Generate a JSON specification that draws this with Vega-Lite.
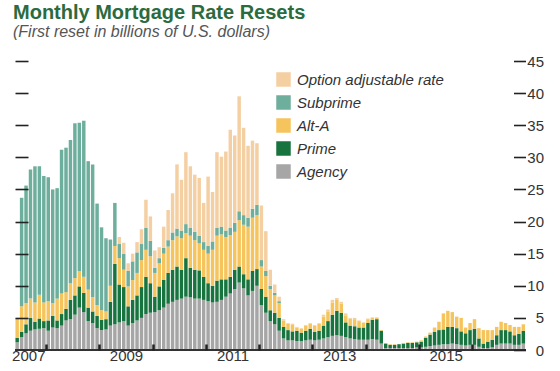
{
  "$schema": "https://vega.github.io/schema/vega-lite/v6.json",
  "autosize": {"type": "none"},
  "width": 510.5,
  "height": 289,
  "padding": {"left": 15, "top": 61, "right": 34.5, "bottom": 21},
  "background": "white",
  "config": {"view": {"stroke": null}},
  "title": {
    "text": "Monthly Mortgage Rate Resets",
    "subtitle": "(First reset in billions of U.S. dollars)",
    "anchor": "start",
    "frame": "group",
    "font": "Liberation Sans",
    "fontSize": 20,
    "fontWeight": "bold",
    "color": "#2c6b3d",
    "subtitleFont": "Liberation Sans",
    "subtitleFontSize": 16,
    "subtitleFontStyle": "italic",
    "subtitleColor": "#555555",
    "subtitlePadding": 1,
    "offset": 14,
    "dx": -2
  },
  "data": {"values": [
    {"m":"2007-06","Agency":1.2,"Prime":0.7,"Alt-A":3.1,"Subprime":0,"Option adjustable rate":0},
    {"m":"2007-07","Agency":2.0,"Prime":0.8,"Alt-A":4.0,"Subprime":16.9,"Option adjustable rate":0},
    {"m":"2007-08","Agency":2.6,"Prime":1.4,"Alt-A":3.3,"Subprime":18.3,"Option adjustable rate":0},
    {"m":"2007-09","Agency":3.0,"Prime":2.0,"Alt-A":3.0,"Subprime":20.1,"Option adjustable rate":0},
    {"m":"2007-10","Agency":3.2,"Prime":1.2,"Alt-A":3.0,"Subprime":21.2,"Option adjustable rate":0},
    {"m":"2007-11","Agency":3.3,"Prime":1.6,"Alt-A":3.7,"Subprime":20.0,"Option adjustable rate":0},
    {"m":"2007-12","Agency":3.4,"Prime":1.1,"Alt-A":2.9,"Subprime":19.7,"Option adjustable rate":0},
    {"m":"2008-01","Agency":3.0,"Prime":1.6,"Alt-A":3.0,"Subprime":19.3,"Option adjustable rate":0},
    {"m":"2008-02","Agency":3.5,"Prime":1.8,"Alt-A":2.0,"Subprime":17.7,"Option adjustable rate":0},
    {"m":"2008-03","Agency":3.4,"Prime":1.2,"Alt-A":3.4,"Subprime":17.2,"Option adjustable rate":0},
    {"m":"2008-04","Agency":3.8,"Prime":1.8,"Alt-A":3.2,"Subprime":22.4,"Option adjustable rate":0},
    {"m":"2008-05","Agency":4.6,"Prime":1.8,"Alt-A":2.6,"Subprime":22.5,"Option adjustable rate":0},
    {"m":"2008-06","Agency":4.8,"Prime":3.0,"Alt-A":2.6,"Subprime":22.3,"Option adjustable rate":0},
    {"m":"2008-07","Agency":5.5,"Prime":3.0,"Alt-A":2.7,"Subprime":24.1,"Option adjustable rate":0},
    {"m":"2008-08","Agency":6.6,"Prime":3.3,"Alt-A":2.4,"Subprime":23.1,"Option adjustable rate":0},
    {"m":"2008-09","Agency":5.9,"Prime":3.0,"Alt-A":2.5,"Subprime":24.3,"Option adjustable rate":0},
    {"m":"2008-10","Agency":4.5,"Prime":2.1,"Alt-A":2.8,"Subprime":20.0,"Option adjustable rate":0},
    {"m":"2008-11","Agency":4.2,"Prime":1.8,"Alt-A":2.2,"Subprime":20.7,"Option adjustable rate":0},
    {"m":"2008-12","Agency":3.4,"Prime":1.9,"Alt-A":1.7,"Subprime":15.8,"Option adjustable rate":0},
    {"m":"2009-01","Agency":3.1,"Prime":1.6,"Alt-A":1.5,"Subprime":12.9,"Option adjustable rate":0},
    {"m":"2009-02","Agency":3.2,"Prime":1.6,"Alt-A":1.2,"Subprime":11.4,"Option adjustable rate":0},
    {"m":"2009-03","Agency":3.8,"Prime":3.7,"Alt-A":2.5,"Subprime":7.2,"Option adjustable rate":0},
    {"m":"2009-04","Agency":4.0,"Prime":9.4,"Alt-A":2.8,"Subprime":6.7,"Option adjustable rate":0},
    {"m":"2009-05","Agency":4.3,"Prime":5.9,"Alt-A":4.1,"Subprime":2.2,"Option adjustable rate":1.1},
    {"m":"2009-06","Agency":4.5,"Prime":5.3,"Alt-A":2.7,"Subprime":2.5,"Option adjustable rate":1.7},
    {"m":"2009-07","Agency":3.8,"Prime":3.0,"Alt-A":3.1,"Subprime":2.4,"Option adjustable rate":1.2},
    {"m":"2009-08","Agency":4.2,"Prime":3.6,"Alt-A":3.1,"Subprime":2.9,"Option adjustable rate":1.2},
    {"m":"2009-09","Agency":4.6,"Prime":3.9,"Alt-A":3.5,"Subprime":3.2,"Option adjustable rate":1.6},
    {"m":"2009-10","Agency":5.0,"Prime":4.8,"Alt-A":4.2,"Subprime":2.5,"Option adjustable rate":2.3},
    {"m":"2009-11","Agency":5.6,"Prime":5.8,"Alt-A":4.2,"Subprime":3.4,"Option adjustable rate":4.4},
    {"m":"2009-12","Agency":5.8,"Prime":4.6,"Alt-A":4.2,"Subprime":2.4,"Option adjustable rate":3.8},
    {"m":"2010-01","Agency":5.9,"Prime":2.4,"Alt-A":3.7,"Subprime":0.8,"Option adjustable rate":2.7},
    {"m":"2010-02","Agency":6.2,"Prime":3.7,"Alt-A":3.6,"Subprime":0.8,"Option adjustable rate":1.7},
    {"m":"2010-03","Agency":6.6,"Prime":4.3,"Alt-A":4.1,"Subprime":0.9,"Option adjustable rate":3.3},
    {"m":"2010-04","Agency":7.2,"Prime":4.8,"Alt-A":4.1,"Subprime":1.0,"Option adjustable rate":4.7},
    {"m":"2010-05","Agency":7.5,"Prime":5.0,"Alt-A":4.6,"Subprime":1.2,"Option adjustable rate":6.1},
    {"m":"2010-06","Agency":7.8,"Prime":5.2,"Alt-A":4.7,"Subprime":1.2,"Option adjustable rate":10.0},
    {"m":"2010-07","Agency":8.0,"Prime":4.5,"Alt-A":4.9,"Subprime":1.2,"Option adjustable rate":7.9},
    {"m":"2010-08","Agency":8.3,"Prime":6.0,"Alt-A":3.9,"Subprime":1.4,"Option adjustable rate":11.2},
    {"m":"2010-09","Agency":8.2,"Prime":4.6,"Alt-A":5.0,"Subprime":1.2,"Option adjustable rate":9.6},
    {"m":"2010-10","Agency":8.0,"Prime":4.5,"Alt-A":4.6,"Subprime":1.3,"Option adjustable rate":8.9},
    {"m":"2010-11","Agency":8.0,"Prime":4.4,"Alt-A":4.2,"Subprime":1.2,"Option adjustable rate":9.0},
    {"m":"2010-12","Agency":7.8,"Prime":3.6,"Alt-A":4.2,"Subprime":1.2,"Option adjustable rate":6.1},
    {"m":"2011-01","Agency":7.6,"Prime":2.8,"Alt-A":4.6,"Subprime":1.2,"Option adjustable rate":10.8},
    {"m":"2011-02","Agency":7.4,"Prime":2.6,"Alt-A":5.6,"Subprime":1.3,"Option adjustable rate":7.7},
    {"m":"2011-03","Agency":7.5,"Prime":3.3,"Alt-A":7.0,"Subprime":1.2,"Option adjustable rate":11.8},
    {"m":"2011-04","Agency":7.8,"Prime":3.2,"Alt-A":7.0,"Subprime":1.2,"Option adjustable rate":10.9},
    {"m":"2011-05","Agency":8.3,"Prime":2.7,"Alt-A":6.6,"Subprime":1.0,"Option adjustable rate":12.3},
    {"m":"2011-06","Agency":8.8,"Prime":2.6,"Alt-A":6.5,"Subprime":1.1,"Option adjustable rate":15.3},
    {"m":"2011-07","Agency":9.5,"Prime":3.0,"Alt-A":5.9,"Subprime":1.4,"Option adjustable rate":13.6},
    {"m":"2011-08","Agency":10.5,"Prime":2.5,"Alt-A":7.2,"Subprime":1.4,"Option adjustable rate":17.9},
    {"m":"2011-09","Agency":9.6,"Prime":2.2,"Alt-A":7.7,"Subprime":1.5,"Option adjustable rate":13.6},
    {"m":"2011-10","Agency":8.5,"Prime":2.5,"Alt-A":8.2,"Subprime":1.4,"Option adjustable rate":11.2},
    {"m":"2011-11","Agency":9.2,"Prime":3.1,"Alt-A":8.3,"Subprime":1.4,"Option adjustable rate":10.6},
    {"m":"2011-12","Agency":10.0,"Prime":2.6,"Alt-A":8.4,"Subprime":1.6,"Option adjustable rate":9.6},
    {"m":"2012-01","Agency":7.0,"Prime":2.5,"Alt-A":3.5,"Subprime":1.0,"Option adjustable rate":8.5},
    {"m":"2012-02","Agency":5.8,"Prime":2.5,"Alt-A":3.2,"Subprime":0.8,"Option adjustable rate":6.2},
    {"m":"2012-03","Agency":4.5,"Prime":1.7,"Alt-A":3.3,"Subprime":0.5,"Option adjustable rate":2.5},
    {"m":"2012-04","Agency":4.0,"Prime":1.8,"Alt-A":2.7,"Subprime":0.4,"Option adjustable rate":1.3},
    {"m":"2012-05","Agency":3.0,"Prime":2.0,"Alt-A":2.3,"Subprime":0.3,"Option adjustable rate":0.7},
    {"m":"2012-06","Agency":1.8,"Prime":1.8,"Alt-A":1.0,"Subprime":0,"Option adjustable rate":0.2},
    {"m":"2012-07","Agency":1.5,"Prime":1.6,"Alt-A":1.0,"Subprime":0,"Option adjustable rate":0.1},
    {"m":"2012-08","Agency":1.5,"Prime":1.4,"Alt-A":1.1,"Subprime":0,"Option adjustable rate":0.1},
    {"m":"2012-09","Agency":1.4,"Prime":1.6,"Alt-A":0.5,"Subprime":0,"Option adjustable rate":0.1},
    {"m":"2012-10","Agency":1.4,"Prime":1.3,"Alt-A":0.6,"Subprime":0,"Option adjustable rate":0.1},
    {"m":"2012-11","Agency":1.5,"Prime":1.5,"Alt-A":0.8,"Subprime":0,"Option adjustable rate":0.1},
    {"m":"2012-12","Agency":1.6,"Prime":1.7,"Alt-A":0.8,"Subprime":0,"Option adjustable rate":0.1},
    {"m":"2013-01","Agency":1.5,"Prime":1.3,"Alt-A":1.0,"Subprime":0,"Option adjustable rate":0.1},
    {"m":"2013-02","Agency":1.6,"Prime":1.4,"Alt-A":1.1,"Subprime":0,"Option adjustable rate":0.1},
    {"m":"2013-03","Agency":1.8,"Prime":2.0,"Alt-A":1.4,"Subprime":0,"Option adjustable rate":0.3},
    {"m":"2013-04","Agency":2.0,"Prime":2.5,"Alt-A":1.5,"Subprime":0,"Option adjustable rate":0.3},
    {"m":"2013-05","Agency":2.2,"Prime":3.3,"Alt-A":1.9,"Subprime":0,"Option adjustable rate":0.4},
    {"m":"2013-06","Agency":2.3,"Prime":3.8,"Alt-A":1.8,"Subprime":0,"Option adjustable rate":0.2},
    {"m":"2013-07","Agency":2.2,"Prime":3.6,"Alt-A":1.4,"Subprime":0,"Option adjustable rate":0.3},
    {"m":"2013-08","Agency":2.0,"Prime":2.3,"Alt-A":1.1,"Subprime":0,"Option adjustable rate":0.3},
    {"m":"2013-09","Agency":1.8,"Prime":2.0,"Alt-A":1.1,"Subprime":0,"Option adjustable rate":0.1},
    {"m":"2013-10","Agency":1.7,"Prime":2.0,"Alt-A":1.1,"Subprime":0,"Option adjustable rate":0.2},
    {"m":"2013-11","Agency":1.6,"Prime":1.9,"Alt-A":1.0,"Subprime":0,"Option adjustable rate":0.1},
    {"m":"2013-12","Agency":1.6,"Prime":1.9,"Alt-A":0.7,"Subprime":0,"Option adjustable rate":0.1},
    {"m":"2014-01","Agency":1.6,"Prime":2.6,"Alt-A":0.6,"Subprime":0,"Option adjustable rate":0.1},
    {"m":"2014-02","Agency":1.7,"Prime":3.0,"Alt-A":0.3,"Subprime":0,"Option adjustable rate":0.1},
    {"m":"2014-03","Agency":1.6,"Prime":3.2,"Alt-A":0.2,"Subprime":0,"Option adjustable rate":0.1},
    {"m":"2014-04","Agency":1.0,"Prime":2.0,"Alt-A":0.1,"Subprime":0,"Option adjustable rate":0},
    {"m":"2014-05","Agency":0.3,"Prime":0.7,"Alt-A":0,"Subprime":0,"Option adjustable rate":0},
    {"m":"2014-06","Agency":0.3,"Prime":0.5,"Alt-A":0.1,"Subprime":0,"Option adjustable rate":0},
    {"m":"2014-07","Agency":0.3,"Prime":0.5,"Alt-A":0.1,"Subprime":0,"Option adjustable rate":0},
    {"m":"2014-08","Agency":0.3,"Prime":0.6,"Alt-A":0,"Subprime":0,"Option adjustable rate":0},
    {"m":"2014-09","Agency":0.3,"Prime":0.7,"Alt-A":0.1,"Subprime":0,"Option adjustable rate":0},
    {"m":"2014-10","Agency":0.3,"Prime":0.8,"Alt-A":0.1,"Subprime":0,"Option adjustable rate":0},
    {"m":"2014-11","Agency":0.3,"Prime":0.8,"Alt-A":0.1,"Subprime":0,"Option adjustable rate":0},
    {"m":"2014-12","Agency":0.4,"Prime":0.8,"Alt-A":0.1,"Subprime":0,"Option adjustable rate":0},
    {"m":"2015-01","Agency":0.4,"Prime":0.9,"Alt-A":0.2,"Subprime":0,"Option adjustable rate":0},
    {"m":"2015-02","Agency":0.5,"Prime":1.4,"Alt-A":0.2,"Subprime":0,"Option adjustable rate":0},
    {"m":"2015-03","Agency":0.6,"Prime":1.8,"Alt-A":0.3,"Subprime":0,"Option adjustable rate":0},
    {"m":"2015-04","Agency":0.7,"Prime":2.1,"Alt-A":0.7,"Subprime":0,"Option adjustable rate":0},
    {"m":"2015-05","Agency":0.8,"Prime":2.3,"Alt-A":1.3,"Subprime":0,"Option adjustable rate":0},
    {"m":"2015-06","Agency":0.9,"Prime":2.3,"Alt-A":2.5,"Subprime":0,"Option adjustable rate":0},
    {"m":"2015-07","Agency":0.9,"Prime":2.7,"Alt-A":2.5,"Subprime":0,"Option adjustable rate":0},
    {"m":"2015-08","Agency":1.0,"Prime":2.6,"Alt-A":2.3,"Subprime":0,"Option adjustable rate":0},
    {"m":"2015-09","Agency":0.9,"Prime":2.5,"Alt-A":1.8,"Subprime":0,"Option adjustable rate":0},
    {"m":"2015-10","Agency":0.8,"Prime":2.1,"Alt-A":2.1,"Subprime":0,"Option adjustable rate":0},
    {"m":"2015-11","Agency":0.7,"Prime":1.9,"Alt-A":0.9,"Subprime":0,"Option adjustable rate":0},
    {"m":"2015-12","Agency":0.8,"Prime":2.3,"Alt-A":1.1,"Subprime":0,"Option adjustable rate":0},
    {"m":"2016-01","Agency":0.8,"Prime":2.5,"Alt-A":1.5,"Subprime":0,"Option adjustable rate":0},
    {"m":"2016-02","Agency":0.5,"Prime":1.3,"Alt-A":1.6,"Subprime":0,"Option adjustable rate":0},
    {"m":"2016-03","Agency":0.3,"Prime":0.7,"Alt-A":2.1,"Subprime":0,"Option adjustable rate":0},
    {"m":"2016-04","Agency":0.3,"Prime":1.0,"Alt-A":1.8,"Subprime":0,"Option adjustable rate":0},
    {"m":"2016-05","Agency":0.4,"Prime":1.2,"Alt-A":1.5,"Subprime":0,"Option adjustable rate":0},
    {"m":"2016-06","Agency":0.8,"Prime":1.5,"Alt-A":1.3,"Subprime":0,"Option adjustable rate":0},
    {"m":"2016-07","Agency":1.0,"Prime":2.1,"Alt-A":1.3,"Subprime":0,"Option adjustable rate":0},
    {"m":"2016-08","Agency":1.0,"Prime":2.1,"Alt-A":1.1,"Subprime":0,"Option adjustable rate":0},
    {"m":"2016-09","Agency":1.0,"Prime":1.9,"Alt-A":1.0,"Subprime":0,"Option adjustable rate":0},
    {"m":"2016-10","Agency":0.8,"Prime":1.5,"Alt-A":1.3,"Subprime":0,"Option adjustable rate":0},
    {"m":"2016-11","Agency":0.8,"Prime":1.7,"Alt-A":1.1,"Subprime":0,"Option adjustable rate":0},
    {"m":"2016-12","Agency":1.0,"Prime":2.0,"Alt-A":1.0,"Subprime":0,"Option adjustable rate":0}
  ]},
  "transform": [
    {"fold": ["Agency", "Prime", "Alt-A", "Subprime", "Option adjustable rate"], "as": ["key", "value"]},
    {"calculate": "indexof(['Agency','Prime','Alt-A','Subprime','Option adjustable rate'], datum.key)", "as": "ord"}
  ],
  "layer": [
    {
      "mark": {"type": "bar"},
      "encoding": {
        "x": {
          "field": "m", "type": "ordinal",
          "scale": {"type": "band", "paddingInner": 0.22, "paddingOuter": 0.1},
          "axis": {
            "title": null,
            "values": ["2007-09","2008-01","2009-01","2009-07","2010-01","2011-01","2011-07","2012-01","2013-01","2013-07","2014-01","2015-01","2015-07","2016-01"],
            "bandPosition": 0.5,
            "labelExpr": "indexof(datum.value,'-01') > 0 ? '' : slice(datum.value,0,4)",
            "labelAngle": 0,
            "labelAlign": "center",
            "labelFont": "Liberation Sans",
            "labelFontSize": 15,
            "labelColor": "#333333",
            "labelPadding": 4,
            "domain": false,
            "tickSize": -6,
            "tickWidth": 2.5,
            "tickOffset": -2.2,
            "tickColor": "#222222",
            "tickOpacity": {"condition": {"test": "indexof(datum.value,'-01') > 0", "value": 1}, "value": 0},
            "zindex": 1
          }
        },
        "y": {
          "field": "value", "type": "quantitative", "stack": "zero",
          "scale": {"domain": [0, 45], "nice": false, "zero": true},
          "axis": {
            "orient": "left", "title": null, "values": [5,10,15,20,25,30,35,40,45],
            "labels": false, "domain": false, "grid": false,
            "tickSize": -13, "tickWidth": 1.6, "tickColor": "#222222", "zindex": 1
          }
        },
        "color": {
          "field": "key", "type": "nominal",
          "scale": {
            "domain": ["Option adjustable rate", "Subprime", "Alt-A", "Prime", "Agency"],
            "range": ["#f4cfa2", "#6dae9c", "#f6c45d", "#17743f", "#a6a6a6"]
          },
          "legend": {
            "orient": "none", "legendX": 261, "legendY": 11, "title": null,
            "symbolType": "square", "symbolSize": 210, "symbolStrokeWidth": 0, "symbolOpacity": 1,
            "labelFont": "Liberation Sans", "labelFontSize": 15, "labelFontStyle": "italic",
            "labelColor": "#333333", "labelOffset": 6, "rowPadding": 7, "padding": 0
          }
        },
        "order": {"field": "ord", "type": "quantitative", "sort": "ascending"}
      }
    },
    {
      "mark": {"type": "rule", "color": "#333333", "strokeWidth": 1.5},
      "encoding": {
        "y": {
          "datum": 0, "type": "quantitative",
          "axis": {
            "orient": "right", "title": null, "values": [0,5,10,15,20,25,30,35,40,45],
            "domain": false, "grid": false,
            "tickSize": -12, "tickWidth": 1.6, "tickColor": "#222222",
            "labelAlign": "right", "labelPadding": 30,
            "labelFont": "Liberation Sans", "labelFontSize": 15, "labelColor": "#333333",
            "zindex": 1
          }
        }
      }
    }
  ],
  "resolve": {"axis": {"y": "independent"}}
}
